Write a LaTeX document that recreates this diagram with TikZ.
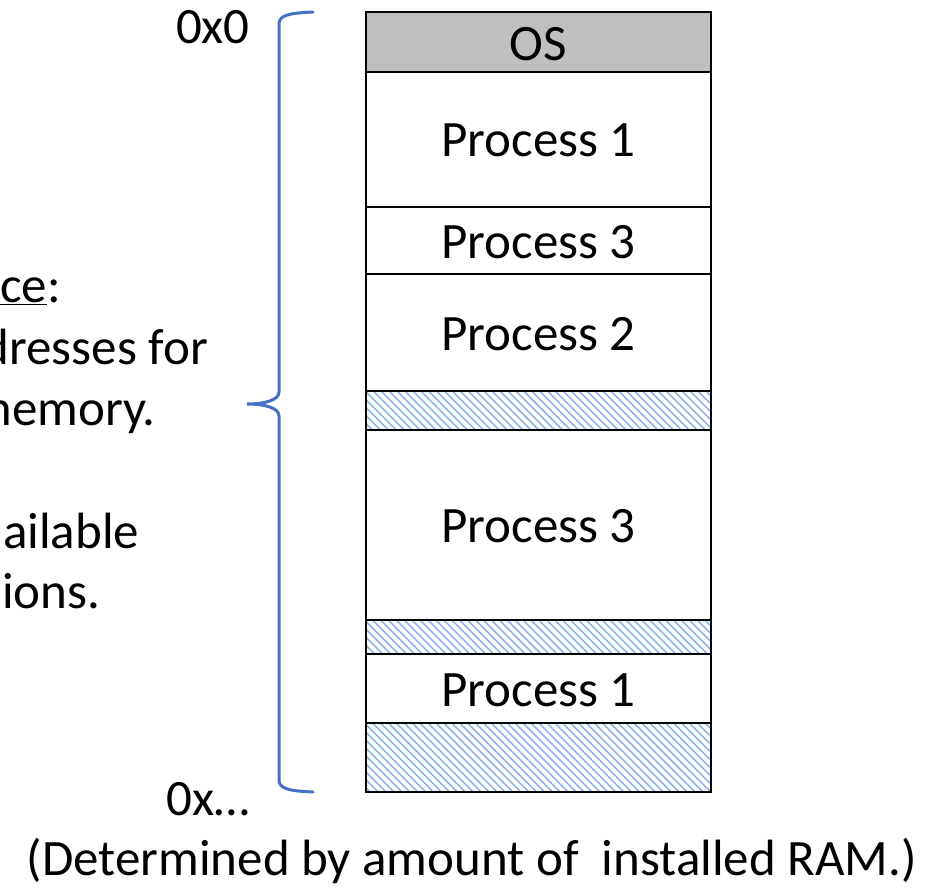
\documentclass[tikz,border=0pt]{standalone}
\usepackage{fontspec}
\setmainfont{Carlito}
\usetikzlibrary{patterns.meta}
\definecolor{bracec}{RGB}{68,114,196}
\definecolor{hatchc}{RGB}{140,180,232}
\definecolor{osgray}{RGB}{191,191,191}
\tikzset{
  seg/.style={draw=black, line width=2.6pt},
  free/.style={seg, pattern={Lines[angle=-45,distance=5.6pt,line width=1.6pt]}, pattern color=hatchc},
  lbl/.style={font=\fontsize{51}{61}\selectfont, inner sep=0pt},
  txt/.style={font=\fontsize{51}{61}\selectfont, inner sep=0pt}
}
\begin{document}
\begin{tikzpicture}[x=1pt,y=-1pt]
\useasboundingbox (0,0) rectangle (938,889);
% memory blocks
\path[seg, fill=osgray] (366,12) rectangle (711,72);
\path[seg] (366,72) rectangle (711,207);
\path[seg] (366,207) rectangle (711,274);
\path[seg] (366,274) rectangle (711,391);
\path[free] (366,391) rectangle (711,430);
\path[seg] (366,430) rectangle (711,620);
\path[free] (366,620) rectangle (711,654);
\path[seg] (366,654) rectangle (711,723);
\path[free] (366,723) rectangle (711,792);
% labels
\node[lbl] (os) at (538.5,44) {OS};
\node[lbl] (p1a) at (538.5,140) {Process 1};
\node[lbl] (p3a) at (538.5,242) {Process 3};
\node[lbl] (p2) at (538.5,334) {Process 2};
\node[lbl] (p3b) at (538.5,526) {Process 3};
\node[lbl] (p1b) at (538.5,690) {Process 1};
% brace
\draw[bracec, line width=3pt, line cap=round]
  (313,12) .. controls (290,13) and (279,15) .. (279,24)
  -- (279,392) .. controls (279,400) and (265,404) .. (247,404)
  .. controls (265,404) and (279,408) .. (279,416)
  -- (279,780) .. controls (279,789) and (290,791) .. (313,792);
% addresses
\node[txt, anchor=base east] (a0) at (250,43) {0x0};
\node[txt, anchor=base east] (an) at (250,815) {0x…};
\node[txt, anchor=base east] (ram) at (917,875) {(Determined by amount of \ installed RAM.)};
% left text fragments
\node[txt, anchor=base west] (t1) at (0,302) {\underline{ce}:};
\node[txt, anchor=base east] (t2) at (208,364) {dresses for};
\node[txt, anchor=base east] (t3) at (156,425) {memory.};
\node[txt, anchor=base west] (t4) at (3,548) {ailable};
\node[txt, anchor=base west] (t5) at (2,608) {ions.};
\end{tikzpicture}
\end{document}
